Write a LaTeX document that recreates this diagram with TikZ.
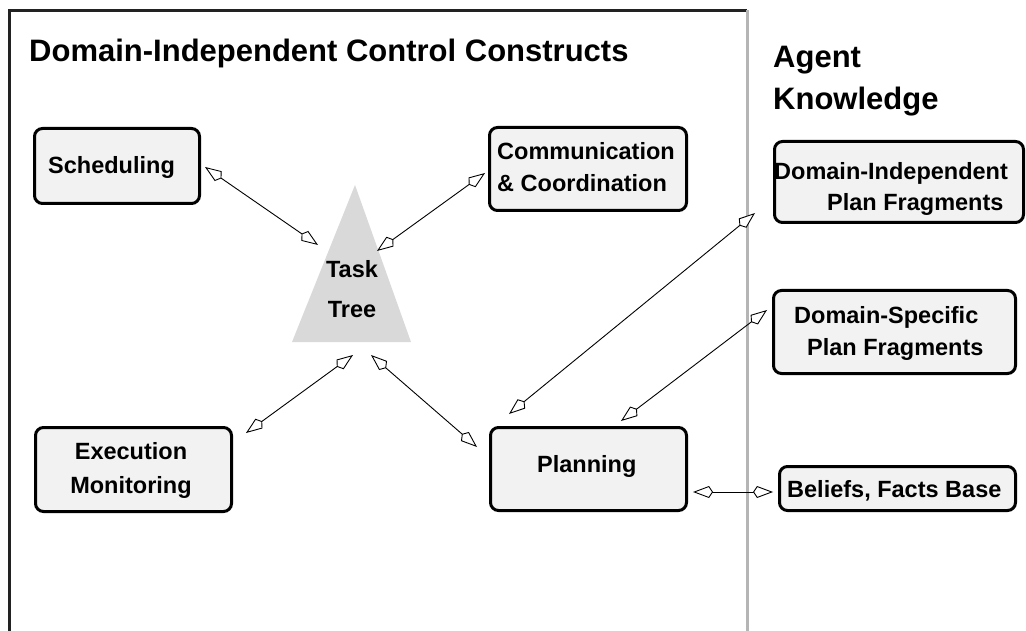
\documentclass[tikz,border=0pt]{standalone}
\usepackage{fontspec}
\setmainfont{Liberation Sans}
\usetikzlibrary{arrows.meta}
\definecolor{boxfill}{HTML}{F2F2F2}
\definecolor{trifill}{HTML}{D9D9D9}
\definecolor{framec}{HTML}{222222}
\definecolor{divc}{HTML}{B5B5B5}
\tikzset{
  box/.style={draw=black, line width=3pt, fill=boxfill, rounded corners=8pt, inner sep=0pt},
  lbl/.style={inner sep=0pt, font=\bfseries\fontsize{23.5}{32}\selectfont, anchor=base west, align=left},
  head/.style={inner sep=0pt, font=\bfseries\fontsize{31}{42}\selectfont, anchor=base west, align=left},
  kitehead/.tip={Kite[open, fill=white, length=20pt, width=12pt, inset=4pt]},
  link/.style={kitehead-kitehead, line width=0.9pt, black},
}
\begin{document}
\begin{tikzpicture}[x=1pt, y=-1pt]
\useasboundingbox (0,0) rectangle (1026,631);
% frame and divider
\draw[framec, line width=3pt] (9,631) -- (9,10.5) -- (747,10.5);
\draw[divc, line width=3pt] (747,10) -- (747,631);
% headings (multi-line nodes: base = last line)
\node[head] (title) at (29,62) {Domain-Independent Control Constructs};
\node[head] (agent) at (773,110) {Agent\\Knowledge};
% task tree
\fill[trifill] (355,185) -- (411,342) -- (292,342) -- cycle;
\node[lbl, anchor=base, align=center, font=\bfseries\fontsize{23.5}{40}\selectfont] (tt) at (352,317) {Task\\Tree};
% boxes
\node[box, minimum width=165pt, minimum height=75pt] (sched) at (117,166) {};
\node[lbl] (schedt) at (48,174) {Scheduling};
\node[box, minimum width=197pt, minimum height=83pt] (comm) at (588,169) {};
\node[lbl] (commt) at (497,192) {Communication\\\& Coordination};
\node[box, minimum width=249pt, minimum height=81pt] (dip) at (899,182) {};
\node[lbl, font=\bfseries\fontsize{23.5}{31}\selectfont] (dipt) at (774,211) {Domain-Independent\\\hspace*{53pt}Plan Fragments};
\node[box, minimum width=242pt, minimum height=83pt] (dsp) at (894.5,332) {};
\node[lbl] (dspt) at (794,355) {Domain-Specific\\\hspace*{13pt}Plan Fragments};
\node[box, minimum width=236pt, minimum height=44pt] (bel) at (897.5,488.5) {};
\node[lbl] (belt) at (787,497) {Beliefs, Facts Base};
\node[box, minimum width=196pt, minimum height=84pt] (exec) at (133.5,469.5) {};
\node[lbl, anchor=base, align=center, font=\bfseries\fontsize{23.5}{34}\selectfont] (exect) at (131,493) {Execution\\Monitoring};
\node[box, minimum width=196pt, minimum height=83pt] (plan) at (588.5,469) {};
\node[lbl] (plant) at (537,472) {Planning};
% connector end points
\coordinate (sched-e) at (205,167);
\coordinate (tt-sched) at (318,245);
\coordinate (comm-w) at (485,173);
\coordinate (tt-comm) at (377,251);
\coordinate (exec-ne) at (246,433);
\coordinate (tt-exec) at (353,355);
\coordinate (tt-plan) at (371,355);
\coordinate (plan-nw) at (477,447);
\coordinate (plan-dip) at (509,414);
\coordinate (dip-w) at (755,213);
\coordinate (plan-dsp) at (621,421);
\coordinate (dsp-w) at (767,310);
\coordinate (plan-e) at (693,492);
\coordinate (bel-w) at (773,492);
% connectors
\draw[link] (sched-e) -- (tt-sched);
\draw[link] (comm-w) -- (tt-comm);
\draw[link] (exec-ne) -- (tt-exec);
\draw[link] (tt-plan) -- (plan-nw);
\draw[link] (plan-dip) -- (dip-w);
\draw[link] (plan-dsp) -- (dsp-w);
\draw[link] (plan-e) -- (bel-w);
\end{tikzpicture}
\end{document}
